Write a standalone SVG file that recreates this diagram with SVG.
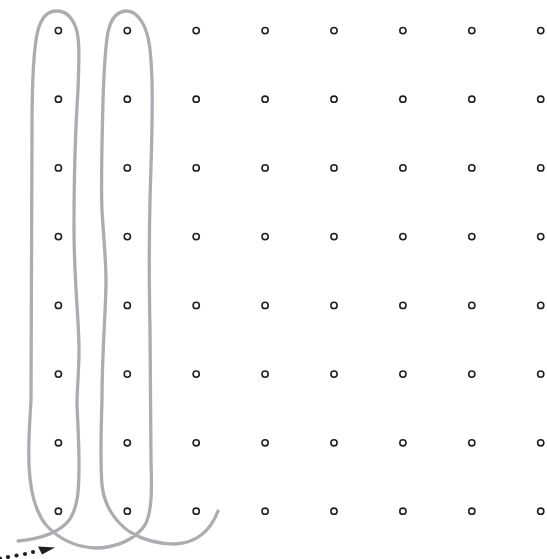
<svg xmlns="http://www.w3.org/2000/svg" width="547" height="559" viewBox="0 0 547 559">
<defs>
<style>
.pin{fill:#ffffff;stroke:#231f20;stroke-width:1.6}
.thread{fill:none;stroke:#abadb0;stroke-width:3.3;stroke-linecap:round;stroke-linejoin:round}
.dot{fill:#231f20}
</style>
<circle id="p" class="pin" r="3.1"/>
</defs>
<rect width="547" height="559" fill="#ffffff"/>
<g id="grid">
<g id="row1">
<use href="#p" x="58.4" y="30.6"/><use href="#p" x="127.3" y="30.6"/><use href="#p" x="196.2" y="30.6"/><use href="#p" x="265.1" y="30.6"/><use href="#p" x="334" y="30.6"/><use href="#p" x="402.9" y="30.6"/><use href="#p" x="471.8" y="30.6"/><use href="#p" x="540.7" y="30.6"/>
</g>
<g id="row2">
<use href="#p" x="58.4" y="99.2"/><use href="#p" x="127.3" y="99.2"/><use href="#p" x="196.2" y="99.2"/><use href="#p" x="265.1" y="99.2"/><use href="#p" x="334" y="99.2"/><use href="#p" x="402.9" y="99.2"/><use href="#p" x="471.8" y="99.2"/><use href="#p" x="540.7" y="99.2"/>
</g>
<g id="row3">
<use href="#p" x="58.4" y="167.9"/><use href="#p" x="127.3" y="167.9"/><use href="#p" x="196.2" y="167.9"/><use href="#p" x="265.1" y="167.9"/><use href="#p" x="334" y="167.9"/><use href="#p" x="402.9" y="167.9"/><use href="#p" x="471.8" y="167.9"/><use href="#p" x="540.7" y="167.9"/>
</g>
<g id="row4">
<use href="#p" x="58.4" y="236.6"/><use href="#p" x="127.3" y="236.6"/><use href="#p" x="196.2" y="236.6"/><use href="#p" x="265.1" y="236.6"/><use href="#p" x="334" y="236.6"/><use href="#p" x="402.9" y="236.6"/><use href="#p" x="471.8" y="236.6"/><use href="#p" x="540.7" y="236.6"/>
</g>
<g id="row5">
<use href="#p" x="58.4" y="305.4"/><use href="#p" x="127.3" y="305.4"/><use href="#p" x="196.2" y="305.4"/><use href="#p" x="265.1" y="305.4"/><use href="#p" x="334" y="305.4"/><use href="#p" x="402.9" y="305.4"/><use href="#p" x="471.8" y="305.4"/><use href="#p" x="540.7" y="305.4"/>
</g>
<g id="row6">
<use href="#p" x="58.4" y="374.1"/><use href="#p" x="127.3" y="374.1"/><use href="#p" x="196.2" y="374.1"/><use href="#p" x="265.1" y="374.1"/><use href="#p" x="334" y="374.1"/><use href="#p" x="402.9" y="374.1"/><use href="#p" x="471.8" y="374.1"/><use href="#p" x="540.7" y="374.1"/>
</g>
<g id="row7">
<use href="#p" x="58.4" y="442.8"/><use href="#p" x="127.3" y="442.8"/><use href="#p" x="196.2" y="442.8"/><use href="#p" x="265.1" y="442.8"/><use href="#p" x="334" y="442.8"/><use href="#p" x="402.9" y="442.8"/><use href="#p" x="471.8" y="442.8"/><use href="#p" x="540.7" y="442.8"/>
</g>
<g id="row8">
<use href="#p" x="58.4" y="511.2"/><use href="#p" x="127.3" y="511.2"/><use href="#p" x="196.2" y="511.2"/><use href="#p" x="265.1" y="511.2"/><use href="#p" x="334" y="511.2"/><use href="#p" x="402.9" y="511.2"/><use href="#p" x="471.8" y="511.2"/><use href="#p" x="540.7" y="511.2"/>
</g>
</g>
<g id="connectors">
<path class="thread" d="M18,541 C38,539 60,533 70,519 C78,506 79,490 79,465 C79,445 78,425 77,405 C77,390 79,370 79,350 C79,320 74,280 74,230 C74,170 76,120 78,90 C79,60 80,40 76,28 C72,17 65,11 57,11 C47,11 42,17 38,30 C34,45 32,80 32,130 L31,400 C30,420 28,440 29,465 C30,490 34,510 46,525 C58,538 75,547 95,548 C115,548 135,540 145,525 C152,512 152,490 151,460 L150,330 C149,280 149,240 150,200 C151,160 153,120 152,80 C151,55 150,35 142,22 C137,14 132,11 127,11 C117,11 111,18 108,32 C105,48 104,70 103,100 C102,140 101,190 102,210 C103,230 106,260 106,280 C106,310 102,350 102,400 C101,430 100,460 102,485 C104,505 115,522 130,532 C145,541 160,544 175,544 C195,543 210,532 218,511"/>
<g id="start-arrow">
<circle class="dot" cx="0" cy="558.5" r="2.1"/>
<circle class="dot" cx="8" cy="557" r="2.1"/>
<circle class="dot" cx="16.5" cy="555.5" r="2.1"/>
<circle class="dot" cx="25" cy="554" r="2.1"/>
<circle class="dot" cx="33" cy="552" r="2.1"/>
<polygon class="dot" points="38,546.5 55,547.5 42,554.5"/>
</g>
</g>
</svg>
